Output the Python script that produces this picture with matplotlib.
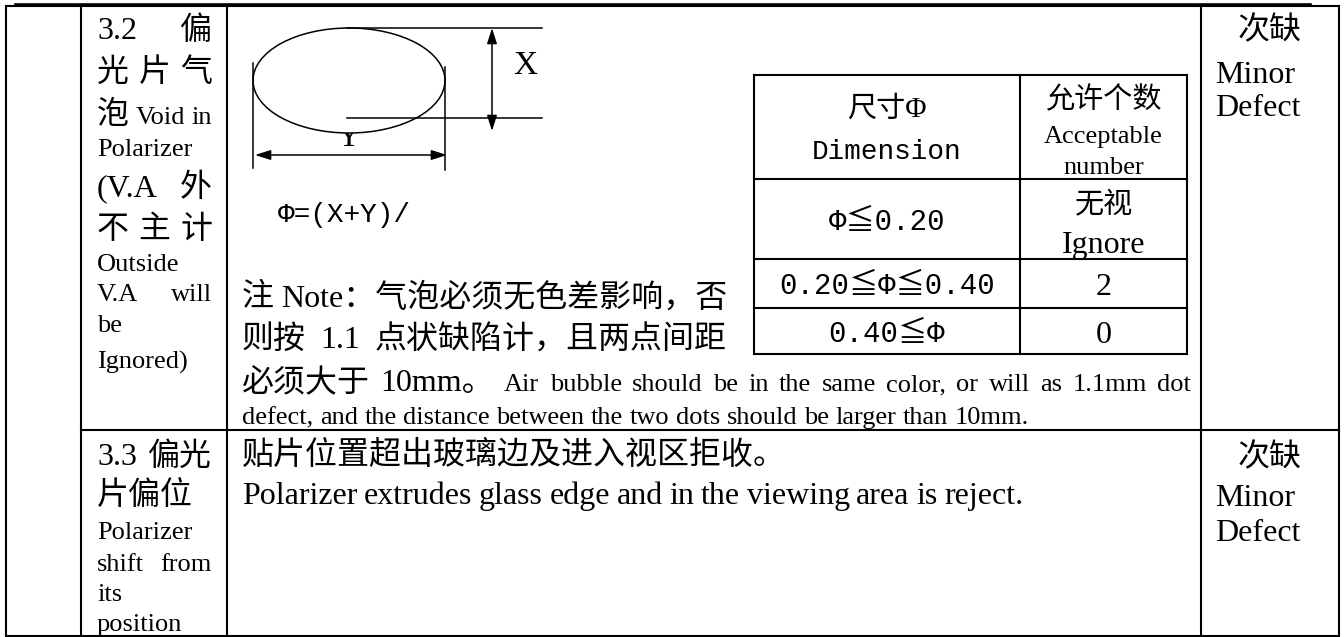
import matplotlib
matplotlib.use("Agg")
import matplotlib.pyplot as plt
from matplotlib.patches import Ellipse, FancyArrowPatch

SERIF = ["Liberation Serif", "Noto Sans CJK SC"]
MONO = ["Liberation Mono", "Noto Sans CJK SC"]
MAIN = 23
SMALL = 19

# text of the table
item_32 = ["3.2 偏", "光 片 气", "泡 Void in", "Polarizer", "(V.A 外", "不 主 计",
           "Outside", "V.A will", "be", "Ignored)"]
item_33 = ["3.3 偏光", "片偏位", "Polarizer", "shift from", "its", "position"]
note_cn = ["注 Note：气泡必须无色差影响，否", "则按 1.1 点状缺陷计，且两点间距", "必须大于 10mm。"]
note_en = ["Air bubble should be in the same color, or will as 1.1mm dot",
           "defect, and the distance between the two dots should be larger than 10mm."]
shift_cn = "贴片位置超出玻璃边及进入视区拒收。"
shift_en = "Polarizer extrudes glass edge and in the viewing area is reject."
grade = ["次缺", "Minor", "Defect"]
formula = "Φ=(X+Y)/"
dim_header = ["尺寸Φ", "Dimension"]
num_header = ["允许个数", "Acceptable", "number"]
dim_ranges = ["Φ≦0.20", "0.20≦Φ≦0.40", "0.40≦Φ"]
allowed = [["无视", "Ignore"], ["2"], ["0"]]

# layout (pixels)
COLS = [6, 81, 227, 1201, 1339]
ROW_SPLIT = 430
TOP, BOTTOM = 6, 636
Y32 = [28, 70, 113, 147, 185, 227, 262, 292, 323, 359]
Y33 = [454, 493, 530, 562, 592, 622]
NOTE_Y = [295, 337, 380, 415]
SHIFT_Y = [453, 493]
GRADE_Y = [[28, 72, 105], [455, 495, 530]]
TX = [754, 1020, 1187]
TY = [75, 179, 259, 308, 354]

fig = plt.figure(figsize=(13.44, 6.37), dpi=100)
ax = fig.add_axes([0, 0, 1, 1])
ax.set_xlim(0, 1344)
ax.set_ylim(637, 0)
ax.axis("off")
renderer = fig.canvas.get_renderer()
PX = 100 / 72


def is_cjk(s):
    return any(ord(c) > 0x2E80 for c in s)


def left_size(tok):
    return MAIN if (is_cjk(tok) or tok[0] in "0123456789(") else SMALL


def line(tokens, sizes, x0, x1, yc, justify=True, family=SERIF):
    base = yc + 0.35 * max(sizes) * PX
    objs = [ax.text(x0, base, t, fontsize=s, family=family, va="baseline", ha="left")
            for t, s in zip(tokens, sizes)]
    widths = [o.get_window_extent(renderer).width for o in objs]
    if justify and len(objs) > 1:
        gap = (x1 - x0 - sum(widths)) / (len(objs) - 1)
    else:
        gap = 0.25 * SMALL * PX
    x = x0
    for o, w in zip(objs, widths):
        o.set_x(x)
        x += w + gap


def center(txt, x, yc, size, family=SERIF):
    ax.text(x, yc + 0.35 * size * PX, txt, fontsize=size, family=family,
            ha="center", va="baseline")


# frame
LW = 1.5
for x in COLS:
    ax.plot([x, x], [TOP, BOTTOM], color="black", lw=LW)
ax.plot([COLS[0], COLS[-1]], [TOP, TOP], color="black", lw=LW)
ax.plot([COLS[1], COLS[-1]], [ROW_SPLIT, ROW_SPLIT], color="black", lw=LW)
ax.plot([COLS[0], COLS[-1]], [BOTTOM, BOTTOM], color="black", lw=LW)
ax.plot([16, 1310], [4.5, 4.5], color="black", lw=2.6)

# item column
for txt, y in zip(item_32, Y32):
    toks = txt.split()
    line(toks, [left_size(t) for t in toks], 97, 212, y)
for txt, y in zip(item_33, Y33):
    toks = txt.split()
    line(toks, [left_size(t) for t in toks], 97, 212, y)

# note text
for txt, y in zip(note_cn[:2], NOTE_Y[:2]):
    toks = txt.split()
    line(toks, [MAIN] * len(toks), 242, 727, y)
toks_cn = note_cn[2].split()
toks_en = note_en[0].split()
line(toks_cn + toks_en, [MAIN] * len(toks_cn) + [SMALL] * len(toks_en), 242, 1191, NOTE_Y[2])
line(note_en[1].split(), [SMALL] * len(note_en[1].split()), 242, 1191, NOTE_Y[3], justify=False)

line([shift_cn], [MAIN], 242, 1191, SHIFT_Y[0], justify=False)
line(shift_en.split(), [MAIN] * len(shift_en.split()), 242, 1191, SHIFT_Y[1], justify=False)

# grade column
for ys in GRADE_Y:
    center(grade[0], 1270, ys[0], MAIN)
    line([grade[1]], [MAIN], 1215, 1330, ys[1], justify=False)
    line([grade[2]], [MAIN], 1215, 1330, ys[2], justify=False)

# bubble sketch
ax.text(349, 146, "Y", fontsize=24, family=SERIF, ha="center", va="baseline", zorder=1)
ax.add_patch(Ellipse((349, 80.5), 192, 105, facecolor="white", edgecolor="black", lw=1.1, zorder=2))
DLW = 1.1
ax.plot([347, 542], [28, 28], color="black", lw=DLW, zorder=3)
ax.plot([347, 542], [118, 118], color="black", lw=DLW, zorder=3)
ax.plot([253, 253], [63, 168], color="black", lw=DLW, zorder=3)
ax.plot([445, 445], [67, 170], color="black", lw=DLW, zorder=3)
style = "<|-|>,head_length=0.47,head_width=0.15"
ax.add_patch(FancyArrowPatch((492, 28), (492, 131), arrowstyle=style, mutation_scale=20,
                             color="black", lw=DLW, shrinkA=0, shrinkB=0, zorder=3))
ax.add_patch(FancyArrowPatch((255, 155), (447, 155), arrowstyle=style, mutation_scale=20,
                             color="black", lw=DLW, shrinkA=0, shrinkB=0, zorder=3))
ax.text(525, 74, "X", fontsize=24, family=SERIF, ha="center", va="baseline")
line([formula], [20], 278, 420, 212, justify=False, family=MONO)

# size table
for x in TX:
    ax.plot([x, x], [TY[0], TY[-1]], color="black", lw=LW)
for y in TY:
    ax.plot([TX[0], TX[-1]], [y, y], color="black", lw=LW)
c1 = (TX[0] + TX[1]) / 2
c2 = (TX[1] + TX[2]) / 2
center(dim_header[0], c1, 107, 21)
center(dim_header[1], c1, 149, 20, family=MONO)
center(num_header[0], c2, 98, 21)
center(num_header[1], c2, 134, SMALL)
center(num_header[2], c2, 165, SMALL)
center(dim_ranges[0], c1, 220, 21, family=MONO)
center(dim_ranges[1], c1, 284, 21, family=MONO)
center(dim_ranges[2], c1, 332, 21, family=MONO)
center(allowed[0][0], c2, 203, 21)
center(allowed[0][1], c2, 242, MAIN)
center(allowed[1][0], c2, 284, MAIN)
center(allowed[2][0], c2, 332, MAIN)

fig.savefig("out.png", dpi=100)
